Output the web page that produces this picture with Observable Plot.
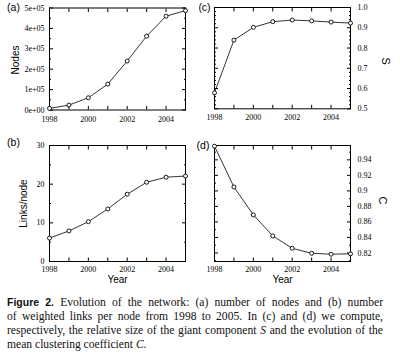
<!DOCTYPE html>
<html><head><meta charset="utf-8">
<script src="https://cdn.jsdelivr.net/npm/d3@7"></script>
<script src="https://cdn.jsdelivr.net/npm/@observablehq/plot@0.6"></script>
<style>
body{margin:0;background:#fff;width:400px;height:362px;overflow:hidden;position:relative}
.p{position:absolute}
.p svg{overflow:visible}
#cap{position:absolute;left:7px;top:295px;width:376px;font-family:"Liberation Serif",serif;font-size:11.6px;line-height:14.1px;color:#111}
#cap .l{text-align:justify;text-align-last:justify}
#cap .last{text-align:left}
#cap b{font-family:"Liberation Sans",sans-serif;font-size:10.5px}
</style>
</head><body>
<div id="pa" class="p" style="left:0;top:0"></div>
<div id="pc" class="p" style="left:190px;top:0"></div>
<div id="pb" class="p" style="left:0;top:135px"></div>
<div id="pd" class="p" style="left:190px;top:135px"></div>
<div id="cap">
<div class="l"><b>Figure 2.</b> Evolution of the network: (a) number of nodes and (b) number</div>
<div class="l">of weighted links per node from 1998 to 2005. In (c) and (d) we compute,</div>
<div class="l">respectively, the relative size of the giant component <i>S</i> and the evolution of the</div>
<div class="last">mean clustering coefficient <i>C</i>.</div>
</div>
<script>
const years = [1998, 1999, 2000, 2001, 2002, 2003, 2004, 2005];
const yearTicks = [1998, 2000, 2002, 2004];
const yearTickLabels = ["1998", "2000", "2002", "2004"];

const nodes = [8000, 24000, 60000, 127000, 240000, 362000, 460000, 487000];
const nodeTicks = [0, 100000, 200000, 300000, 400000, 500000];
const nodeTickLabels = ["0e+00", "1e+05", "2e+05", "3e+05", "4e+05", "5e+05"];
const nodeMinor = [50000, 150000, 250000, 350000, 450000];

const links = [6.05, 7.9, 10.3, 13.6, 17.4, 20.5, 21.8, 22.1];
const linkTicks = [0, 10, 20, 30];
const linkTickLabels = ["0", "10", "20", "30"];
const linkMinor = [5, 15, 25];

const giantS = [0.579, 0.839, 0.902, 0.930, 0.938, 0.934, 0.928, 0.923];
const sTicks = [0.5, 0.6, 0.7, 0.8, 0.9, 1.0];
const sTickLabels = ["0.5", "0.6", "0.7", "0.8", "0.9", "1.0"];
const sMinor = [0.52,0.54,0.56,0.58,0.62,0.64,0.66,0.68,0.72,0.74,0.76,0.78,0.82,0.84,0.86,0.88,0.92,0.94,0.96,0.98];

const clusterC = [0.9576, 0.905, 0.869, 0.842, 0.826, 0.8196, 0.8184, 0.8189];
const cTicks = [0.82, 0.84, 0.86, 0.88, 0.90, 0.92, 0.94];
const cTickLabels = ["0.82", "0.84", "0.86", "0.88", "0.9", "0.92", "0.94"];
const cMinor = [0.81, 0.83, 0.85, 0.87, 0.89, 0.91, 0.93, 0.95];

const SERIF = "Liberation Serif, serif";
const SANS = "Liberation Sans, Arial, sans-serif";

function lookup(ticks, labels) {
  return d => labels[ticks.findIndex(t => Math.abs(t - d) < 1e-9)];
}

function panel(cfg) {
  const data = years.map((y, i) => ({year: y, v: cfg.values[i]}));
  const lab = cfg.side;
  const marks = [
    Plot.frame({stroke: "black", strokeWidth: 1}),
    Plot.axisX(years, {anchor: "bottom", tickSize: -3.5, fill: "none", label: null}),
    Plot.axisX(years, {anchor: "top", tickSize: -3.5, fill: "none", label: null}),
    Plot.axisX(yearTicks, {anchor: "bottom", tickSize: 0, tickPadding: cfg.xpad, tickFormat: lookup(yearTicks, yearTickLabels), label: null, fontFamily: SERIF, fontSize: 8}),
    Plot.axisY(cfg.ticks, {anchor: "left", tickSize: -4, fill: "none", label: null}),
    Plot.axisY(cfg.ticks, {anchor: "right", tickSize: -4, fill: "none", label: null}),
    Plot.axisY(cfg.minor, {anchor: "left", tickSize: -2, fill: "none", label: null}),
    Plot.axisY(cfg.minor, {anchor: "right", tickSize: -2, fill: "none", label: null}),
    Plot.axisY(cfg.ticks, {anchor: lab, tickSize: 0, tickPadding: cfg.ypad, tickFormat: lookup(cfg.ticks, cfg.labels), label: null, fontFamily: SERIF, fontSize: 8}),
    Plot.line(data, {x: "year", y: "v", stroke: "black", strokeWidth: 0.8}),
    Plot.dot(data, {x: "year", y: "v", r: 2, stroke: "black", strokeWidth: 0.9, fill: "white"}),
    Plot.text([cfg.ylabel], {frameAnchor: lab, text: d => d, rotate: lab === "left" ? -90 : 90, dx: cfg.ylabelDx, dy: cfg.ylabelDy || 0, textAnchor: "middle", lineAnchor: "middle", fontFamily: SANS, fontSize: cfg.ylabelSize}),
    Plot.text([cfg.tag], {frameAnchor: "top-left", text: d => d, dx: cfg.tagDx, dy: cfg.tagDy, textAnchor: "middle", lineAnchor: "middle", fontFamily: SANS, fontSize: 10.5})
  ];
  if (cfg.xlabel) marks.push(Plot.text([cfg.xlabel], {frameAnchor: "bottom", text: d => d, dy: 18.5, textAnchor: "middle", lineAnchor: "middle", fontFamily: SANS, fontSize: 10}));
  return Plot.plot({
    width: cfg.width, height: cfg.height,
    marginTop: cfg.mt, marginBottom: cfg.mb, marginLeft: cfg.ml, marginRight: cfg.mr,
    x: {domain: [1998, 2005]},
    y: {domain: cfg.domain},
    style: {background: "transparent", color: "black", overflow: "visible"},
    marks
  });
}

document.getElementById("pa").append(panel({
  values: nodes, domain: [0, 500000], ticks: nodeTicks, labels: nodeTickLabels, minor: nodeMinor,
  side: "left", ylabel: "Nodes", ylabelDx: -34, ylabelDy: 1, ylabelSize: 10, tag: "(a)", tagDx: -36, tagDy: 0,
  width: 200, height: 135, mt: 7.5, mb: 25.5, ml: 49, mr: 15, xpad: 6, ypad: 5
}));
document.getElementById("pc").append(panel({
  values: giantS, domain: [0.5, 1.0], ticks: sTicks, labels: sTickLabels, minor: sMinor,
  side: "right", ylabel: "S", ylabelDx: 35, ylabelDy: 3, ylabelSize: 11, tag: "(c)", tagDx: -10, tagDy: 0,
  width: 210, height: 135, mt: 7, mb: 26.7, ml: 24, mr: 50, xpad: 6, ypad: 7
}));
document.getElementById("pb").append(panel({
  values: links, domain: [0, 30], ticks: linkTicks, labels: linkTickLabels, minor: linkMinor,
  side: "left", ylabel: "Links/node", ylabelDx: -26, ylabelSize: 10, tag: "(b)", tagDx: -36, tagDy: -3,
  width: 200, height: 150, mt: 10, mb: 24, ml: 49, mr: 15, xpad: 5, ypad: 5, xlabel: "Year"
}));
document.getElementById("pd").append(panel({
  values: clusterC, domain: [0.809, 0.9585], ticks: cTicks, labels: cTickLabels, minor: cMinor,
  side: "right", ylabel: "C", ylabelDx: 32, ylabelDy: -3, ylabelSize: 11, tag: "(d)", tagDx: -11.5, tagDy: 0,
  width: 210, height: 150, mt: 10, mb: 24, ml: 24, mr: 50, xpad: 5, ypad: 7, xlabel: "Year"
}));
</script>
</body></html>
